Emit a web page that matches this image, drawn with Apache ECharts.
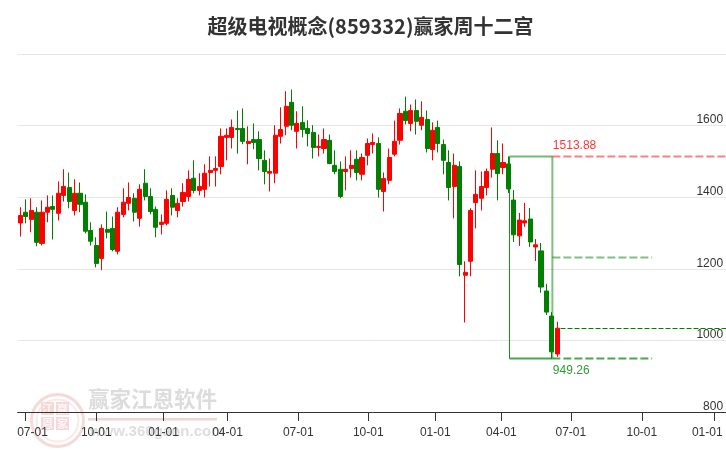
<!DOCTYPE html>
<html>
<head>
<meta charset="utf-8">
<style>html,body{margin:0;padding:0;background:#fff;overflow:hidden;width:726px;height:450px}#c{width:732px;height:450px}</style>
<script src="https://cdn.jsdelivr.net/npm/echarts@6/dist/echarts.min.js"></script>
</head>
<body>
<div id="c"></div>
<script>
const titleText = '超级电视概念(859332)赢家周十二宫';
const opens  = [1328,1358,1338,1358,1271,1358,1374,1355,1405,1427,1363,1411,1386,1307,1265,1229,1310,1313,1249,1352,1383,1397,1341,1439,1402,1366,1324,1327,1405,1363,1388,1402,1453,1419,1422,1469,1475,1486,1567,1567,1592,1592,1550,1561,1561,1503,1467,1467,1570,1598,1665,1584,1609,1592,1581,1539,1536,1559,1489,1478,1472,1480,1506,1464,1517,1547,1550,1416,1447,1520,1559,1640,1606,1642,1601,1617,1533,1595,1547,1497,1430,1486,1182,1221,1385,1397,1427,1478,1522,1483,1493,1392,1292,1328,1339,1261,1250,1138,1068,962];
const closes = [1349,1346,1363,1274,1358,1372,1366,1411,1430,1388,1411,1380,1305,1277,1215,1313,1302,1254,1358,1386,1399,1358,1422,1402,1360,1316,1330,1394,1372,1383,1413,1450,1419,1430,1467,1475,1480,1570,1573,1595,1589,1556,1556,1553,1508,1472,1472,1573,1589,1654,1601,1606,1589,1578,1539,1542,1561,1494,1472,1402,1478,1489,1469,1511,1550,1553,1422,1452,1511,1556,1634,1614,1642,1612,1623,1536,1587,1550,1503,1427,1489,1212,1190,1363,1408,1430,1472,1522,1466,1497,1423,1295,1336,1334,1275,1267,1149,1079,968,1034];
const lows   = [1290,1327,1302,1263,1265,1330,1282,1335,1388,1369,1349,1358,1299,1265,1204,1196,1285,1249,1240,1344,1363,1332,1318,1391,1352,1288,1296,1321,1349,1344,1374,1388,1411,1405,1399,1430,1430,1464,1503,1536,1522,1548,1492,1534,1475,1436,1416,1439,1550,1573,1587,1536,1567,1542,1508,1514,1522,1492,1464,1397,1419,1455,1447,1447,1489,1522,1399,1360,1436,1514,1547,1603,1584,1575,1587,1525,1503,1525,1464,1391,1341,1179,1050,1179,1313,1363,1405,1455,1391,1464,1412,1275,1264,1317,1261,1222,1133,1071,949.26,954];
const highs  = [1372,1394,1397,1372,1391,1405,1405,1444,1478,1469,1450,1441,1408,1330,1288,1324,1360,1346,1372,1425,1441,1411,1436,1478,1425,1374,1352,1419,1425,1397,1439,1475,1503,1467,1492,1514,1514,1592,1592,1617,1642,1648,1598,1606,1584,1531,1508,1601,1651,1696,1701,1640,1654,1615,1601,1575,1592,1575,1531,1500,1514,1531,1531,1522,1564,1578,1567,1469,1536,1614,1648,1681,1659,1673,1668,1642,1609,1614,1561,1531,1522,1500,1221,1369,1475,1472,1480,1595,1559,1550,1513.88,1420,1356,1384,1370,1283,1272,1158,1079,1052];
const tickLabels = ['07-01','10-01','01-01','04-01','07-01','10-01','01-01','04-01','07-01','10-01','01-01'];
const tickWeeks  = [0.92,14.0,26.4,38.2,51.25,64.16,76.5,88.7,101.5,114.6,128.0];
const weekCount = 131;
const highLevel = 1513.88, lowLevel = 949.26, midLevel = 1231.57, lastClose = 1033.2;
const boxStart = 90.2, boxEnd = 98.1, guideEnd = 116.5, rightEnd = 130.5, lastStart = 99.6;

const categories = Array.from({length: weekCount}, (_, i) => 'W' + i);
const candles = opens.map((o, i) => [o, closes[i], lows[i], highs[i]]);

function lineSeries(points, color, width, opacity, dash, z) {
  return {
    type: 'line', xAxisIndex: 1, yAxisIndex: 0, data: points, symbol: 'none', silent: true,
    z: z, animation: false,
    lineStyle: {color: color, width: width, opacity: opacity, type: dash || 'solid'}
  };
}
function tagSeries(x, y, text, color, offsetY) {
  return {
    type: 'scatter', xAxisIndex: 1, yAxisIndex: 0, symbolSize: 1, silent: true, animation: false, z: 5,
    itemStyle: {color: 'rgba(0,0,0,0)'},
    data: [[x, y]],
    label: {
      show: true, formatter: text, color: color, position: [1, offsetY], align: 'left', verticalAlign: 'top',
      fontFamily: 'Liberation Sans, Arial, sans-serif', fontSize: 12
    }
  };
}
const textFont = 'Liberation Sans, Arial, sans-serif';
const richBase = {fontFamily: textFont, fontSize: 12, color: '#333'};

const chart = echarts.init(document.getElementById('c'), null, {renderer: 'canvas'});
chart.setOption({
  animation: false,
  backgroundColor: '#fff',
  title: {
    text: titleText, left: 365.5, top: 11, textAlign: 'center',
    textStyle: {fontFamily: '"Noto Sans CJK SC", sans-serif', fontSize: 20, fontWeight: 'bold', color: '#333'}
  },
  graphic: [
    {type: 'circle', left: 29, top: 392, z: 0, silent: true, shape: {r: 26}, style: {fill: 'none', stroke: '#f5dada', lineWidth: 3}},
    {type: 'circle', left: 34, top: 397, z: 0, silent: true, shape: {r: 21}, style: {fill: 'none', stroke: '#fae9e9', lineWidth: 2}},
    {type: 'rect', left: 41, top: 402, z: 0, silent: true, shape: {width: 13, height: 13}, style: {fill: '#f5d8d8'}},
    {type: 'rect', left: 56, top: 402, z: 0, silent: true, shape: {width: 13, height: 13}, style: {fill: '#f5d8d8'}},
    {type: 'rect', left: 41, top: 417, z: 0, silent: true, shape: {width: 13, height: 13}, style: {fill: '#f5d8d8'}},
    {type: 'rect', left: 56, top: 417, z: 0, silent: true, shape: {width: 13, height: 13}, style: {fill: '#f5d8d8'}},
    {type: 'text', left: 42, top: 403, z: 0, silent: true, style: {text: '江', fill: '#fff', font: '11px "Noto Sans CJK SC"'}},
    {type: 'text', left: 57, top: 403, z: 0, silent: true, style: {text: '赢', fill: '#fff', font: '11px "Noto Sans CJK SC"'}},
    {type: 'text', left: 42, top: 418, z: 0, silent: true, style: {text: '恩', fill: '#fff', font: '11px "Noto Sans CJK SC"'}},
    {type: 'text', left: 57, top: 418, z: 0, silent: true, style: {text: '家', fill: '#fff', font: '11px "Noto Sans CJK SC"'}},
    {type: 'text', left: 88, top: 388, z: 0, silent: true, style: {text: '赢家江恩软件', fill: '#dcdcdc', font: 'bold 21.5px "Noto Sans CJK SC"'}},
    {type: 'rect', left: 88, top: 418, z: 0, silent: true, shape: {width: 129, height: 2.5}, style: {fill: '#efd4d4'}},
    {type: 'text', left: 90, top: 424, z: 0, silent: true, style: {text: 'www.360gann.com', fill: '#dedede', font: 'bold 15px "Liberation Sans"'}}
  ],
  grid: {left: 17.6, top: 54, width: 710.5, height: 358, containLabel: false},
  xAxis: [
    {type: 'category', data: categories, show: false, boundaryGap: true},
    {
      type: 'value', position: 'bottom', min: -0.5, max: 130.5, splitLine: {show: false},
      axisLine: {show: true, onZero: false, lineStyle: {color: '#333', width: 1}},
      axisTick: {show: true, length: 9, customValues: tickWeeks, lineStyle: {color: '#333', width: 1}},
      axisLabel: {
        show: true, margin: 15, customValues: tickWeeks,
        formatter: function (v) {
          const i = tickWeeks.indexOf(v);
          const tag = i === 0 ? 'a' : (i === tickWeeks.length - 1 ? 'z' : 'n');
          return '{' + tag + '|' + tickLabels[i] + '}';
        },
        rich: {
          n: richBase,
          a: Object.assign({padding: [0, 0, 0, 14.4]}, richBase),
          z: Object.assign({padding: [0, 14.6, 0, 0]}, richBase)
        }
      }
    }
  ],
  yAxis: {
    type: 'value', position: 'right', min: 800, max: 1800, interval: 200,
    axisLine: {show: false}, axisTick: {show: false},
    splitLine: {show: true, lineStyle: {color: '#e6e6e6', width: 1}},
    axisLabel: {
      inside: true, margin: 5, verticalAlign: 'bottom', color: '#333', lineHeight: 11,
      fontFamily: textFont, fontSize: 12,
      formatter: function (v) { return v === 1800 ? '' : String(v); }
    }
  },
  series: [
    {
      type: 'candlestick', xAxisIndex: 0, yAxisIndex: 0, data: candles, barWidth: 4.6, z: 3, animation: false, silent: true,
      itemStyle: {color: '#ff0000', color0: '#008000', borderColor: '#ff0000', borderColor0: '#008000', borderWidth: 1}
    },
    lineSeries([[boxStart, lowLevel], [boxStart, highLevel]], '#008000', 1, 0.9, 'solid', 2),
    lineSeries([[boxStart, highLevel], [boxEnd, highLevel]], '#008000', 2, 0.55, 'solid', 2),
    lineSeries([[boxStart, lowLevel], [boxEnd, lowLevel]], '#008000', 2, 0.7, 'solid', 2),
    lineSeries([[boxEnd, lowLevel], [boxEnd, highLevel]], '#008000', 2, 0.5, 'solid', 2),
    lineSeries([[boxEnd, highLevel], [rightEnd, highLevel]], '#ff0000', 2, 0.5, [8, 3], 2),
    lineSeries([[boxEnd, midLevel], [guideEnd, midLevel]], '#008000', 2, 0.5, [8, 3], 2),
    lineSeries([[boxEnd, lowLevel], [guideEnd, lowLevel]], '#008000', 2, 0.7, [8, 3], 2),
    lineSeries([[lastStart, lastClose], [rightEnd, lastClose]], '#008000', 1, 1, [5, 2], 2),
    tagSeries(boxEnd, highLevel, '1513.88', '#ff0000', -16),
    tagSeries(boxEnd, lowLevel, '949.26', '#008000', 7)
  ]
});
</script>
</body>
</html>
